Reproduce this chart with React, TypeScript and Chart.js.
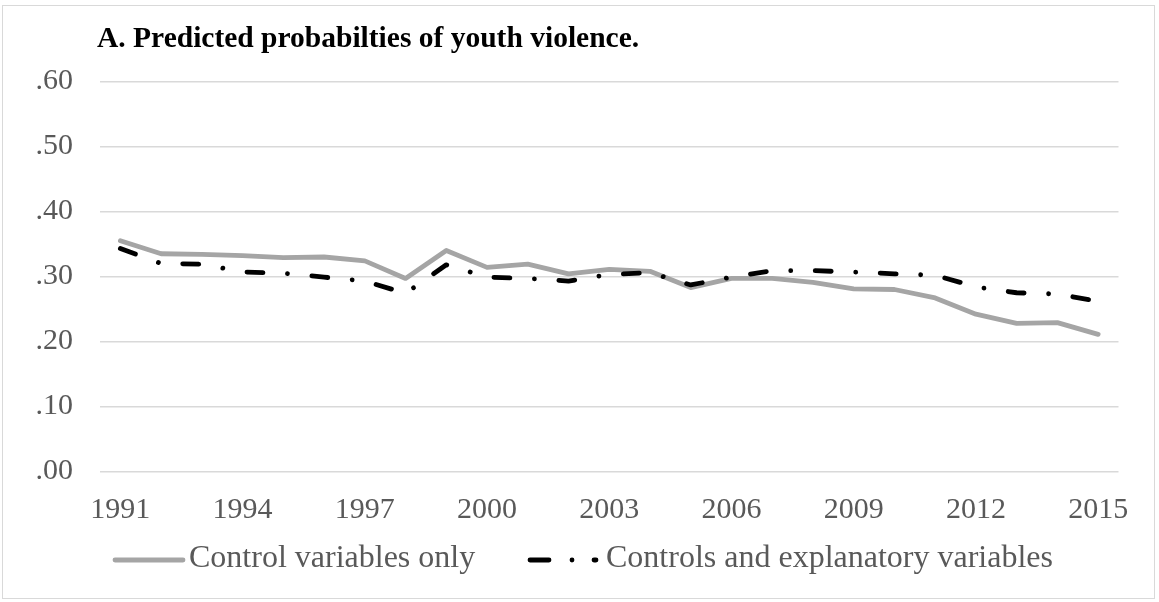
import React, { useEffect, useRef } from "react";
import { Chart, registerables } from "chart.js";

Chart.register(...registerables);

const years = [
  "1991", "1992", "1993", "1994", "1995", "1996", "1997", "1998", "1999",
  "2000", "2001", "2002", "2003", "2004", "2005", "2006", "2007", "2008",
  "2009", "2010", "2011", "2012", "2013", "2014", "2015",
];

const controlOnly = [
  0.355, 0.335, 0.334, 0.332, 0.329, 0.330, 0.324, 0.297, 0.340,
  0.314, 0.319, 0.304, 0.311, 0.308, 0.283, 0.297, 0.297, 0.291,
  0.281, 0.280, 0.267, 0.242, 0.228, 0.229, 0.211,
];

const controlsAndExplanatory = [
  0.343, 0.320, 0.319, 0.307, 0.305, 0.299, 0.293, 0.274, 0.318,
  0.299, 0.297, 0.293, 0.303, 0.306, 0.287, 0.299, 0.309, 0.309,
  0.307, 0.304, 0.302, 0.284, 0.275, 0.273, 0.262,
];

const seriesNames = ["Control variables only", "Controls and explanatory variables"];
const titleText = "A. Predicted probabilties of youth violence.";
const xTickEvery = 3;

const FONT = "'Liberation Serif', 'Times New Roman', Times, serif";
const GRAY = "#a5a5a5";
const BLACK = "#000000";
const TEXT = "#595959";
const GRID = "#d9d9d9";
const MAIN_DASH = [16, 24.5, 0.01, 24.5];
const LEGEND_DASH = [19, 23, 0.01, 22];

export default function App() {
  const ref = useRef<HTMLCanvasElement>(null);

  useEffect(() => {
    const canvas = ref.current;
    if (!canvas) return;

    const decor = {
      id: "decor",
      beforeDraw(chart: any) {
        const c = chart.ctx;
        c.save();
        c.fillStyle = "#ffffff";
        c.fillRect(0, 0, chart.width, chart.height);
        c.strokeStyle = GRID;
        c.lineWidth = 1;
        c.strokeRect(2.5, 5.5, 1152, 593);
        c.restore();
      },
      afterDraw(chart: any) {
        const c = chart.ctx;
        c.save();
        // title
        c.fillStyle = "#000000";
        c.font = `bold 29.5px ${FONT}`;
        c.textBaseline = "alphabetic";
        c.textAlign = "left";
        c.fillText(titleText, 97, 47);

        // legend
        const ly = 560;
        c.lineCap = "round";
        c.lineWidth = 4.8;
        c.strokeStyle = chart.data.datasets[1].borderColor;
        c.setLineDash([]);
        c.beginPath();
        c.moveTo(115, ly);
        c.lineTo(183, ly);
        c.stroke();

        c.strokeStyle = chart.data.datasets[0].borderColor;
        c.setLineDash(LEGEND_DASH);
        c.beginPath();
        c.moveTo(530, ly);
        c.lineTo(596, ly);
        c.stroke();
        c.setLineDash([]);

        c.fillStyle = TEXT;
        c.font = `32px ${FONT}`;
        c.textBaseline = "middle";
        c.fillText(seriesNames[0], 189, 559);
        c.fillText(seriesNames[1], 606, 559);
        c.restore();
      },
    };

    const chart = new Chart(canvas, {
      type: "line",
      data: {
        labels: years,
        datasets: [
          {
            label: seriesNames[1],
            data: controlsAndExplanatory,
            borderColor: BLACK,
            backgroundColor: BLACK,
            borderWidth: 4.8,
            borderDash: MAIN_DASH,
            borderCapStyle: "round",
            borderJoinStyle: "round",
            pointRadius: 0,
            pointHoverRadius: 0,
            tension: 0,
            fill: false,
            order: 0,
          },
          {
            label: seriesNames[0],
            data: controlOnly,
            borderColor: GRAY,
            backgroundColor: GRAY,
            borderWidth: 4.8,
            borderCapStyle: "round",
            borderJoinStyle: "round",
            pointRadius: 0,
            pointHoverRadius: 0,
            tension: 0,
            fill: false,
            order: 1,
          },
        ],
      },
      options: {
        responsive: false,
        animation: false,
        events: [],
        layout: {
          padding: { left: 0, top: 81.5, right: 40.5, bottom: 70.5 },
        },
        plugins: {
          legend: { display: false },
          title: { display: false },
          tooltip: { enabled: false },
        },
        scales: {
          x: {
            type: "category",
            offset: true,
            grid: { display: false, drawTicks: false },
            border: { display: false },
            ticks: {
              autoSkip: false,
              maxRotation: 0,
              minRotation: 0,
              padding: 21,
              color: TEXT,
              font: { family: FONT, size: 30 },
              callback: (_v: any, i: number) => (i % xTickEvery === 0 ? years[i] : ""),
            },
            afterFit: (s: any) => {
              s.height = 60;
            },
          },
          y: {
            min: 0,
            max: 0.6,
            grid: { color: GRID, lineWidth: 1.5, drawTicks: false },
            border: { display: false },
            ticks: {
              stepSize: 0.1,
              padding: 27,
              color: TEXT,
              font: { family: FONT, size: 30 },
              callback: (v: any) => Number(v).toFixed(2).replace(/^0/, ""),
            },
            afterFit: (s: any) => {
              s.width = 100;
            },
          },
        },
      },
      plugins: [decor],
    });

    return () => chart.destroy();
  }, []);

  return (
    <div style={{ position: "fixed", left: 0, top: 0, width: 1159, height: 602, background: "#fff" }}>
      <canvas ref={ref} width={1159} height={602} style={{ display: "block", width: 1159, height: 602 }} />
    </div>
  );
}
